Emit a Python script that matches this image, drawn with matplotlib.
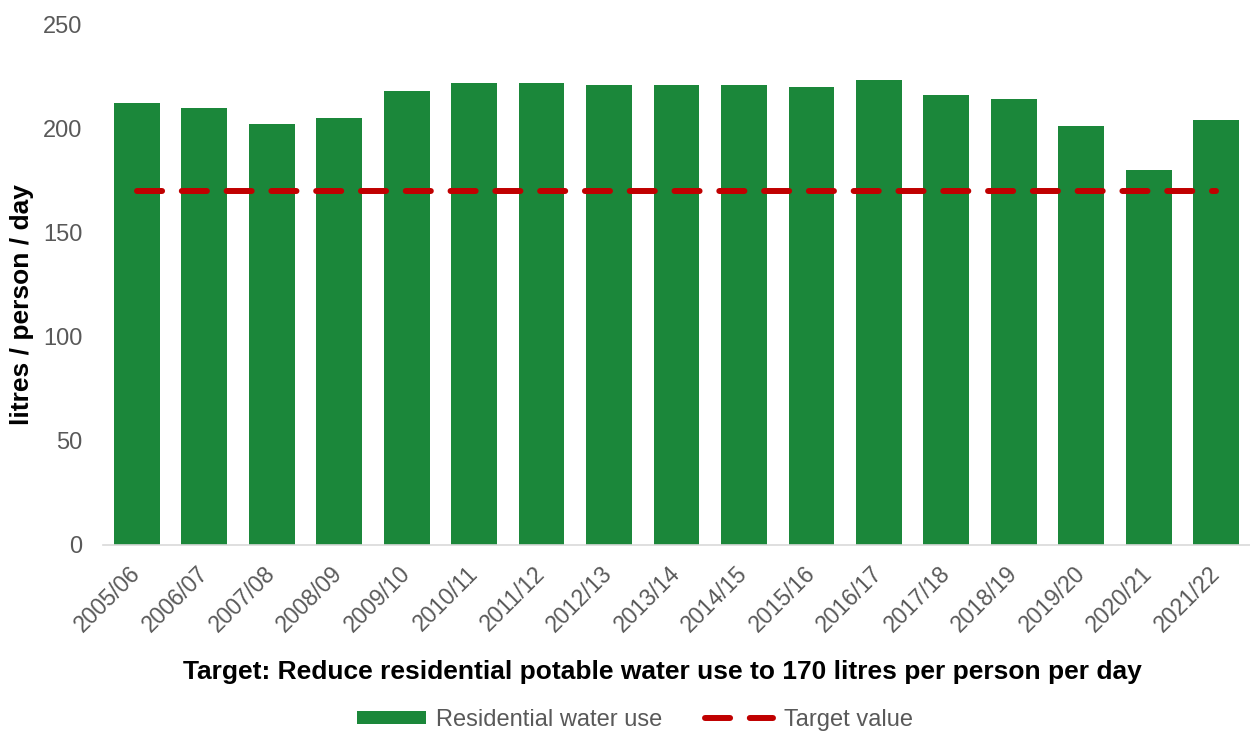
import matplotlib
matplotlib.use("Agg")
import matplotlib.pyplot as plt
import numpy as np

years = ["2005/06", "2006/07", "2007/08", "2008/09", "2009/10", "2010/11", "2011/12",
         "2012/13", "2013/14", "2014/15", "2015/16", "2016/17", "2017/18", "2018/19",
         "2019/20", "2020/21", "2021/22"]
water_use = [212, 210, 202, 205, 218, 222, 222, 221, 221, 221, 220, 223, 216, 214, 201, 180, 204]
target = [170] * len(years)
y_ticks = [0, 50, 100, 150, 200, 250]

plt.rcParams['font.family'] = ['Liberation Sans', 'DejaVu Sans']

fig = plt.figure(figsize=(12.5, 7.33), dpi=100)
ax = fig.add_axes([0.0824, 0.2565, 0.9176, 0.7105])

x = np.arange(len(years))
bars = ax.bar(x, water_use, width=0.68, color="#1B873A", label="Residential water use", zorder=2)
line, = ax.plot(x, target, color="#C00000", lw=4.3, linestyle=(0, (4.2, 3.3)),
                dash_capstyle="round", label="Target value", zorder=3)

ax.set_xlim(-0.5, len(years) - 0.5)
ax.set_ylim(0, 250)
ax.set_yticks(y_ticks)
ax.set_xticks(x)
ax.set_xticklabels(years, rotation=45, ha="right", va="center", rotation_mode="anchor")
ax.tick_params(axis="both", length=0, colors="#595959")
ax.tick_params(axis="y", labelsize=17, pad=15)
ax.tick_params(axis="x", labelsize=16.5, pad=18)

for s in ["top", "right", "left"]:
    ax.spines[s].set_visible(False)
ax.spines["bottom"].set_color("#D9D9D9")
ax.spines["bottom"].set_linewidth(1.2)

fig.text(0.0175, 1 - 305 / 733, "litres / person / day", rotation=90, ha="center", va="center",
         fontsize=19, fontweight="bold", color="black")

fig.text(0.53, 1 - 672 / 733, "Target: Reduce residential potable water use to 170 litres per person per day",
         ha="center", va="center", fontsize=19, fontweight="bold", color="black")

leg = fig.legend(handles=[bars, line], labels=["Residential water use", "Target value"],
                 loc="center", bbox_to_anchor=(0.508, 1 - 720 / 733), ncol=2, frameon=False,
                 fontsize=17, handlelength=2.9, handleheight=0.5, columnspacing=1.8, handletextpad=0.45,
                 borderpad=0, borderaxespad=0)
for t in leg.get_texts():
    t.set_color("#595959")

fig.savefig("out.png", dpi=100)
